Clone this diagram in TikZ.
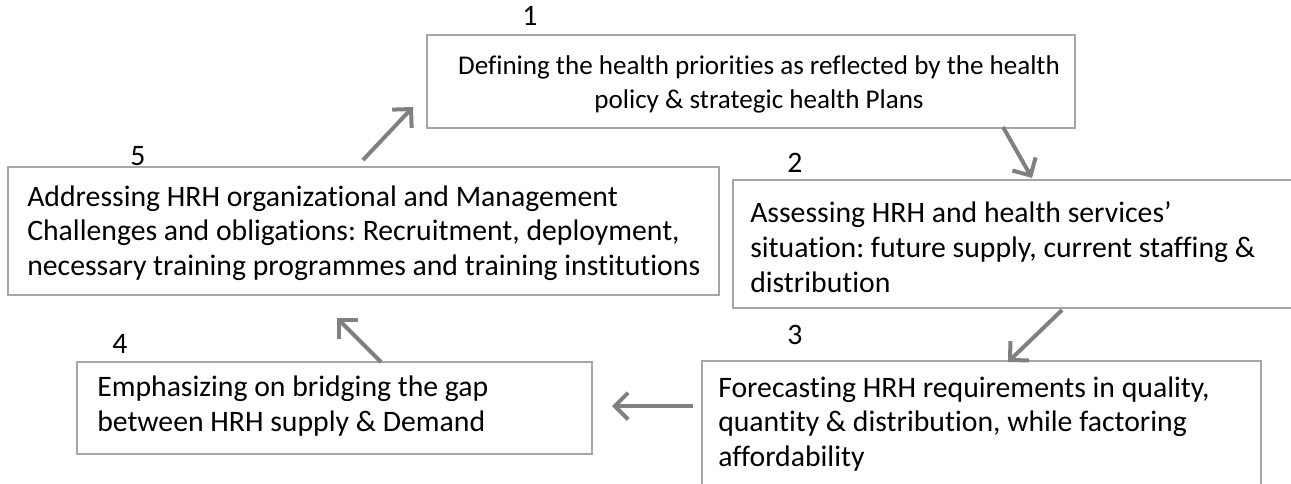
\documentclass[tikz,border=0pt]{standalone}
\usepackage{fontspec}
\setmainfont{Carlito}[Ligatures={NoCommon}]
\usetikzlibrary{arrows.meta}
\definecolor{boxgray}{RGB}{166,166,166}
\definecolor{arrowgray}{RGB}{128,128,128}
\frenchspacing
\begin{document}
\begin{tikzpicture}[
  x=0.75pt, y=-0.75pt,
  line cap=butt, line join=miter,
  boxline/.style={draw=boxgray, line width=1.5pt},
  flow/.style={draw=arrowgray, line width=3pt, -{Straight Barb[length=10pt,width=20pt]}},
  every node/.style={inner sep=0pt, font=\fontsize{22.3pt}{26pt}\selectfont}
]
  \useasboundingbox (0,0) rectangle (1291,483);
  \clip (0,0) rectangle (1291,483);
  % ---- box corners ----
  \coordinate (B1a) at ( 427, 35); \coordinate (B1b) at (1075,128);
  \coordinate (B2a) at ( 733,180); \coordinate (B2b) at (1320,308);
  \coordinate (B3a) at ( 702,361); \coordinate (B3b) at (1261,500);
  \coordinate (B4a) at (  77,362); \coordinate (B4b) at ( 592,454);
  \coordinate (B5a) at (   8,167); \coordinate (B5b) at ( 719,295);
  % ---- boxes ----
  \draw[boxline] (B1a) rectangle (B1b);
  \draw[boxline] (B2a) rectangle (B2b);
  \draw[boxline] (B3a) rectangle (B3b);
  \draw[boxline] (B4a) rectangle (B4b);
  \draw[boxline] (B5a) rectangle (B5b);
  % ---- box texts ----
  \node[align=center, font=\fontsize{20.3pt}{25.5pt}\selectfont] (t1) at (759,84)
    {Defining the health priorities as reflected by the health\\policy \& strategic health Plans};
  \node[anchor=west, align=left] (t2) at (750,247)
    {Assessing HRH and health services’\\situation: future supply, current staffing \&\\distribution};
  \node[anchor=west, align=left] (t3) at (718,424)
    {Forecasting HRH requirements in quality,\\quantity \& distribution, while factoring\\affordability};
  \node[anchor=west, align=left] (t4) at (97,406)
    {Emphasizing on bridging the gap\\between HRH supply \& Demand};
  \node[anchor=west, align=left] (t5) at (27,233)
    {Addressing HRH organizational and Management\\Challenges and obligations: Recruitment, deployment,\\necessary training programmes and training institutions};
  % ---- step numbers ----
  \node (n1) at (530, 16) {1};
  \node (n2) at (795,163) {2};
  \node (n3) at (795,335) {3};
  \node (n4) at (120,344) {4};
  \node (n5) at (138,156) {5};
  % ---- arrow ends ----
  \coordinate (a5s) at ( 363,160); \coordinate (a5e) at ( 413,107);
  \coordinate (a1s) at (1003,127); \coordinate (a1e) at (1032,178);
  \coordinate (a2s) at (1062,310); \coordinate (a2e) at (1008,362);
  \coordinate (a3s) at ( 693,406); \coordinate (a3e) at ( 612,406);
  \coordinate (a4s) at ( 381,362); \coordinate (a4e) at ( 337,318);
  % ---- arrows ----
  \draw[flow] (a5s) -- (a5e);
  \draw[flow] (a1s) -- (a1e);
  \draw[flow] (a2s) -- (a2e);
  \draw[flow] (a3s) -- (a3e);
  \draw[flow] (a4s) -- (a4e);
\end{tikzpicture}
\end{document}
